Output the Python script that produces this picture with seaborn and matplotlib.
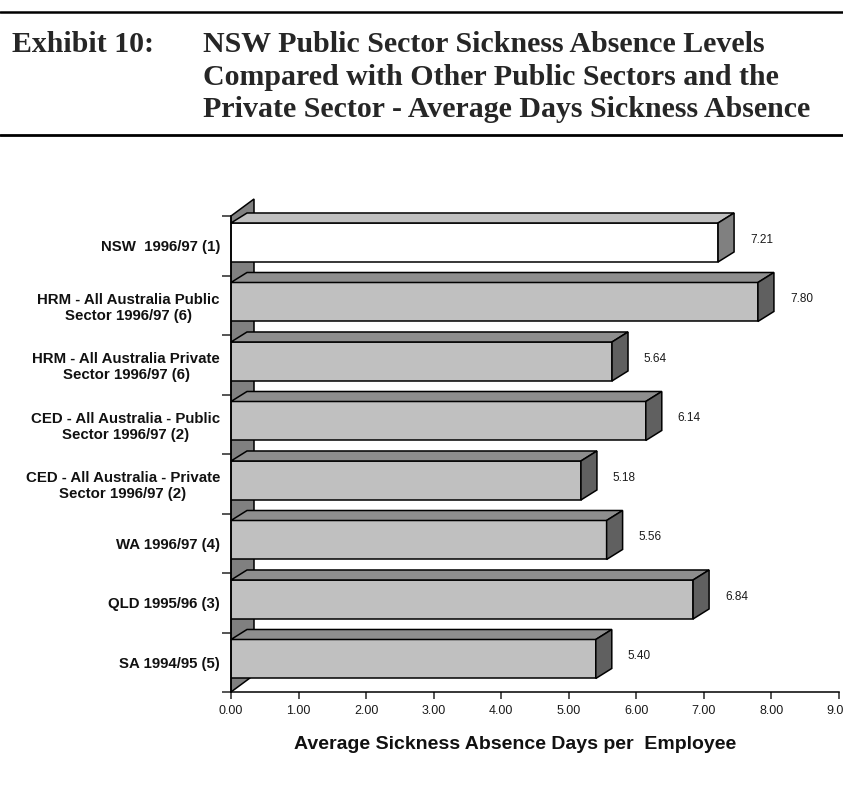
import numpy as np
import pandas as pd
import matplotlib
matplotlib.use("Agg")
import matplotlib.pyplot as plt
from matplotlib.patches import Polygon
from matplotlib.lines import Line2D
import seaborn as sns

# ---- data -------------------------------------------------------------
categories = [
    "NSW  1996/97 (1)",
    "HRM - All Australia Public\nSector 1996/97 (6)",
    "HRM - All Australia Private\nSector 1996/97 (6)",
    "CED - All Australia - Public\nSector 1996/97 (2)",
    "CED - All Australia - Private\nSector 1996/97 (2)",
    "WA 1996/97 (4)",
    "QLD 1995/96 (3)",
    "SA 1994/95 (5)",
]
avg_days = [7.21, 7.80, 5.64, 6.14, 5.18, 5.56, 6.84, 5.40]
x_ticks = [0, 1, 2, 3, 4, 5, 6, 7, 8, 9]
x_tick_labels = ["0.00", "1.00", "2.00", "3.00", "4.00", "5.00", "6.00", "7.00", "8.00", "9.00"]

title_lead = "Exhibit 10:"
title_lines = [
    "NSW Public Sector Sickness Absence Levels",
    "Compared with Other Public Sectors and the",
    "Private Sector - Average Days Sickness Absence",
]
x_label = "Average Sickness Absence Days per  Employee"

# ---- style ------------------------------------------------------------
sns.set_style("white")
plt.rcParams["font.family"] = ["Liberation Sans", "DejaVu Sans"]

W, H = 843, 809
fig = plt.figure(figsize=(W / 100, H / 100), dpi=100)
ax_left, ax_top, ax_right, ax_bottom = 231, 216, 839, 692
ax = fig.add_axes([ax_left / W, 1 - ax_bottom / H,
                   (ax_right - ax_left) / W, (ax_bottom - ax_top) / H])

# face colours: NSW bar highlighted in white
front = ["#FFFFFF"] + ["#C0C0C0"] * (len(categories) - 1)
top = ["#C0C0C0"] + ["#8E8E8E"] * (len(categories) - 1)
side = ["#808080"] + ["#606060"] * (len(categories) - 1)

df = pd.DataFrame({"label": categories, "days": avg_days})
sns.barplot(data=df, y="label", x="days", hue="label", palette=front,
            orient="h", width=0.655, saturation=1, edgecolor="black",
            linewidth=1.1, legend=False, ax=ax, zorder=3)

ax.set_xlim(0, 9)
ax.set_ylim(len(categories) - 0.5, -0.5)

# pixel -> data scale for the depth effect
px_x = (ax_right - ax_left) / 9.0
px_y = (ax_bottom - ax_top) / len(categories)

bars = list(ax.patches)

# back wall along the category axis
wdx, wdy = 23 / px_x, 17 / px_y
y0, y1 = -0.5, len(categories) - 0.5
wall = Polygon([(0, y1), (0, y0), (wdx, y0 - wdy), (wdx, y1 - wdy)],
               closed=True, facecolor="#808080", edgecolor="black",
               linewidth=1.1, zorder=1, clip_on=False)
ax.add_patch(wall)

# 3-D top and side faces for each bar
bdx, bdy = 16 / px_x, 10 / px_y
shift = 0.055
for p in bars:
    p.set_y(p.get_y() - shift)
    xa, xb = p.get_x(), p.get_x() + p.get_width()
    yt, yb = p.get_y(), p.get_y() + p.get_height()
    k = int(round(yt + p.get_height() / 2 + shift))
    topf = Polygon([(xa, yt), (xa + bdx, yt - bdy), (xb + bdx, yt - bdy), (xb, yt)],
                   closed=True, facecolor=top[k], edgecolor="black",
                   linewidth=1.1, zorder=3, clip_on=False)
    sidef = Polygon([(xb, yt), (xb + bdx, yt - bdy), (xb + bdx, yb - bdy), (xb, yb)],
                    closed=True, facecolor=side[k], edgecolor="black",
                    linewidth=1.1, zorder=3, clip_on=False)
    ax.add_patch(topf)
    ax.add_patch(sidef)

# value labels
for k, v in enumerate(avg_days):
    ax.annotate(f"{v:.2f}", xy=(v, k - 0.1), xytext=(23, 0),
                textcoords="offset points", ha="left", va="center",
                fontsize=8.5, color="#1a1a1a")

# axes, ticks
for s in ["top", "right"]:
    ax.spines[s].set_visible(False)
for s in ["left", "bottom"]:
    ax.spines[s].set_linewidth(1.1)
    ax.spines[s].set_color("black")
    ax.spines[s].set_zorder(4)

ax.set_xticks(x_ticks)
ax.set_xticklabels(x_tick_labels)
ax.tick_params(axis="x", direction="out", length=5, width=1.1, pad=4,
               labelsize=9, labelcolor="#1a1a1a", bottom=True)

ax.set_yticks(np.arange(-0.5, len(categories), 1.0))
ax.set_yticklabels([])
ax.set_yticks(np.arange(len(categories)), minor=True)
ax.set_yticklabels(categories, minor=True, fontweight="bold", fontsize=10.8,
                   multialignment="center", color="#111111")
ax.tick_params(axis="y", which="major", direction="out", length=6.5,
               width=1.1, left=True)
ax.tick_params(axis="y", which="minor", length=0, pad=8)
ax.set_xlabel("")
ax.set_ylabel("")

fig.text(515 / W, 1 - 749 / H, x_label, ha="center", va="baseline",
         fontsize=14, fontweight="bold", color="#111111")

# title block with rules
serif = ["Liberation Serif", "DejaVu Serif"]
fig.text(12 / W, 1 - 52 / H, title_lead, ha="left", va="baseline",
         fontsize=21.5, fontweight="bold", family=serif)
for line, base in zip(title_lines, [52, 85, 117]):
    fig.text(203 / W, 1 - base / H, line, ha="left", va="baseline",
             fontsize=21.5, fontweight="bold", family=serif)
for yy, lw in [(12, 1.8), (135, 2.0)]:
    fig.add_artist(Line2D([0, 1], [1 - yy / H, 1 - yy / H],
                          transform=fig.transFigure, color="black", linewidth=lw))

fig.savefig("out.png", dpi=100, facecolor="white")
